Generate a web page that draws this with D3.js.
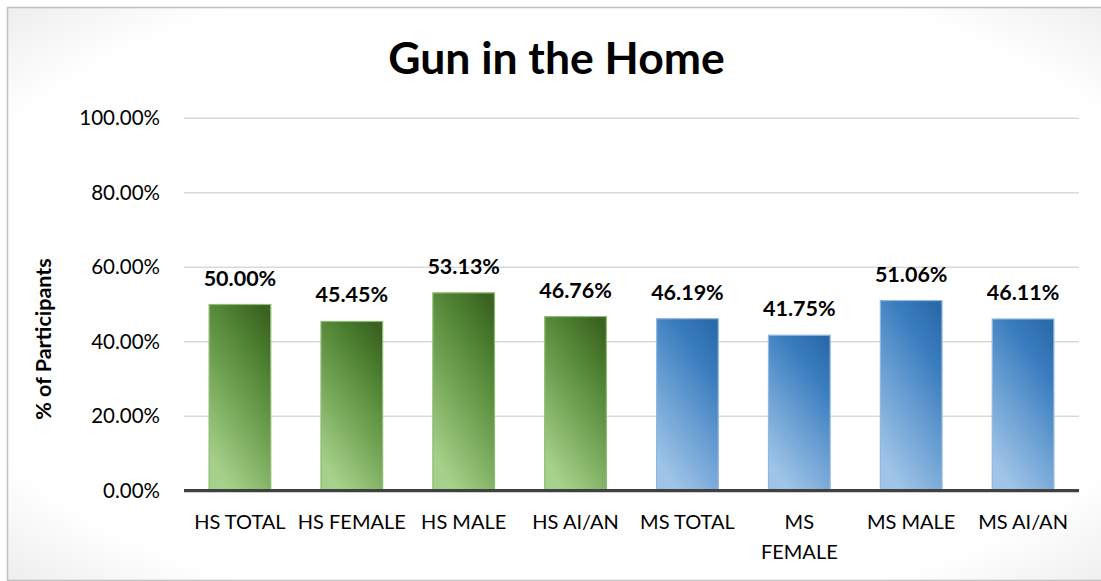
<!DOCTYPE html>
<html>
<head>
<meta charset="utf-8">
<script src="https://cdn.jsdelivr.net/npm/d3@7"></script>
<style>
  html, body { margin: 0; padding: 0; background: #fff; }
  svg { display: block; }
  text { font-family: Lato, "Open Sans", sans-serif; fill: #000; }
</style>
</head>
<body>
<svg id="chart" width="1101" height="581"></svg>
<script>
// ---- data ----
const categories = ["HS TOTAL", "HS FEMALE", "HS MALE", "HS AI/AN", "MS TOTAL", "MS FEMALE", "MS MALE", "MS AI/AN"];
const tickLabels = [["HS TOTAL"], ["HS FEMALE"], ["HS MALE"], ["HS AI/AN"], ["MS TOTAL"], ["MS", "FEMALE"], ["MS MALE"], ["MS AI/AN"]];
const schools = ["HS", "HS", "HS", "HS", "MS", "MS", "MS", "MS"];
const values = [0.5000, 0.4545, 0.5313, 0.4676, 0.4619, 0.4175, 0.5106, 0.4611];
const yTicks = [0, 0.2, 0.4, 0.6, 0.8, 1.0];
const title = "Gun in the Home";
const yTitle = "% of Participants";

// ---- layout ----
const plot = { left: 184, right: 1079, top: 118.3, bottom: 490.7 };

const svg = d3.select("#chart");
const defs = svg.append("defs");

// background gradient (soft grey corners)
const bg = defs.append("radialGradient").attr("id", "bgGrad")
  .attr("cx", "0.5").attr("cy", "0.5").attr("r", "0.72");
bg.append("stop").attr("offset", "0.8").attr("stop-color", "#ffffff");
bg.append("stop").attr("offset", "1").attr("stop-color", "#ececec");

svg.append("rect").attr("x", 7.5).attr("y", 7.5).attr("width", 1110).attr("height", 573)
  .attr("fill", "url(#bgGrad)").attr("stroke", "#bfbfbf").attr("stroke-width", 1.5);

// bar gradients
const gradSpecs = {
  HS: { stops: [[0, "#3a6220"], [0.25, "#4e8131"], [0.6, "#75a657"], [1, "#a6d18b"]], stroke: "#8fba73" },
  MS: { stops: [[0, "#2a6aaa"], [0.25, "#3a7dbf"], [0.6, "#6a9fd3"], [1, "#9fc4e7"]], stroke: "#8fb8e0" }
};
Object.entries(gradSpecs).forEach(([k, spec]) => {
  const g = defs.append("linearGradient").attr("id", "grad" + k)
    .attr("x1", "0.85").attr("y1", "0").attr("x2", "0.35").attr("y2", "1");
  spec.stops.forEach(([o, c]) => g.append("stop").attr("offset", o).attr("stop-color", c));
});

// ---- scales ----
const x = d3.scaleBand().domain(categories).range([plot.left, plot.right]).paddingInner(0.44).paddingOuter(0.22);
const y = d3.scaleLinear().domain([0, 1]).range([plot.bottom, plot.top]);

// gridlines
svg.append("g").selectAll("line").data(yTicks.filter(d => d > 0)).join("line")
  .attr("x1", plot.left).attr("x2", plot.right)
  .attr("y1", d => y(d)).attr("y2", d => y(d))
  .attr("stroke", "#d9d9d9").attr("stroke-width", 1.5);

// y axis
const yAxis = svg.append("g").attr("transform", `translate(${plot.left},0)`)
  .call(d3.axisLeft(y).tickValues(yTicks).tickFormat(d3.format(".2%")).tickSize(0).tickPadding(24));
yAxis.select(".domain").remove();
yAxis.selectAll("text").attr("font-size", 20.5).attr("font-family", "Lato, sans-serif").attr("fill", "#000");

// bars
const data = categories.map((c, i) => ({ c, v: values[i], s: schools[i], lines: tickLabels[i] }));
svg.append("g").selectAll("rect").data(data).join("rect")
  .attr("x", d => x(d.c) + 0.5)
  .attr("y", d => y(d.v))
  .attr("width", x.bandwidth() - 1)
  .attr("height", d => y(0) - y(d.v))
  .attr("fill", d => `url(#grad${d.s})`)
  .attr("stroke", d => gradSpecs[d.s].stroke)
  .attr("stroke-width", 1.2);

// value labels
svg.append("g").selectAll("text").data(data).join("text")
  .attr("x", d => x(d.c) + x.bandwidth() / 2)
  .attr("y", d => y(d.v) - 19)
  .attr("text-anchor", "middle")
  .attr("font-size", 21.5).attr("font-weight", 700)
  .text(d => d3.format(".2%")(d.v));

// x axis
const xAxis = svg.append("g").attr("transform", `translate(0,${plot.bottom})`)
  .call(d3.axisBottom(x).tickSize(0).tickFormat(""));
xAxis.select(".domain").attr("stroke", "#404040").attr("stroke-width", 3.2)
  .attr("d", `M${plot.left},0H${plot.right}`);
xAxis.selectAll(".tick").each(function(d, i) {
  const t = d3.select(this).append("text")
    .attr("text-anchor", "middle").attr("font-size", 20).attr("fill", "#000")
    .attr("font-family", "Lato, sans-serif");
  data[i].lines.forEach((ln, j) => {
    t.append("tspan").attr("x", 0).attr("y", 38.8 + j * 29.5).text(ln);
  });
});

// title
svg.append("text").attr("x", 556.5).attr("y", 73.5).attr("text-anchor", "middle")
  .attr("font-size", 44.5).attr("font-weight", 700).text(title);

// y axis title
svg.append("text").attr("transform", `translate(51,339) rotate(-90)`)
  .attr("text-anchor", "middle").attr("font-size", 21.5).attr("font-weight", 700).text(yTitle);
</script>
</body>
</html>
